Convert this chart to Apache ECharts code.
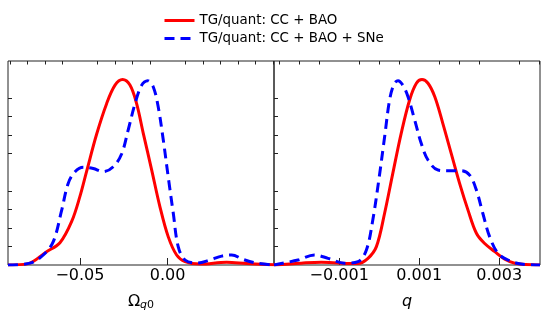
<!DOCTYPE html>
<html>
<head>
<meta charset="utf-8">
<script src="https://cdn.jsdelivr.net/npm/echarts@6/dist/echarts.min.js"></script>
<style>
  html, body { margin: 0; padding: 0; background: #fff; }
  #chart { width: 548px; height: 320px; }
</style>
</head>
<body>
<div id="chart"></div>
<script>
// posterior curves (normalised so the highest peak is ~1)
var omegaRedX = [-0.091, -0.080, -0.069, -0.0614, -0.0547, -0.050, -0.0462, -0.0405, -0.0348, -0.030, -0.0257, -0.0215, -0.0177, -0.0139, -0.0091, -0.0044, 0.0003, 0.0051, 0.0099, 0.0184, 0.0336, 0.045, 0.0564, 0.0606];
var omegaRedY = [0, 0.006, 0.072, 0.12, 0.235, 0.37, 0.505, 0.705, 0.87, 0.97, 1.0, 0.97, 0.87, 0.71, 0.512, 0.314, 0.153, 0.054, 0.018, 0.005, 0.015, 0.008, 0.003, 0.002];

var omegaBlueX = [-0.091, -0.0785, -0.0709, -0.0652, -0.0604, -0.0567, -0.0528, -0.0481, -0.0424, -0.0367, -0.031, -0.0262, -0.0225, -0.0186, -0.0148, -0.0114, -0.0082, -0.0054, -0.0025, 0.0003, 0.0032, 0.006, 0.0099, 0.0165, 0.0241, 0.0308, 0.0365, 0.0431, 0.0507, 0.0606];
var omegaBlueY = [0, 0.01, 0.054, 0.126, 0.296, 0.44, 0.503, 0.527, 0.52, 0.503, 0.53, 0.60, 0.728, 0.87, 0.97, 0.994, 0.96, 0.853, 0.674, 0.476, 0.279, 0.099, 0.027, 0.01, 0.027, 0.048, 0.054, 0.03, 0.01, 0];

var qRedX = [-0.00263, -0.00195, -0.00145, -0.00095, -0.00053, -0.00028, -0.00007, 0.000135, 0.00034, 0.00055, 0.00076, 0.00093, 0.00107, 0.00122, 0.00139, 0.00159, 0.0018, 0.00201, 0.00222, 0.00243, 0.00263, 0.00289, 0.00314, 0.00339, 0.00402];
var qRedY = [0, 0.01, 0.015, 0.01, 0.008, 0.036, 0.099, 0.279, 0.494, 0.71, 0.89, 0.98, 1.0, 0.98, 0.907, 0.764, 0.602, 0.44, 0.296, 0.171, 0.117, 0.072, 0.031, 0.01, 0];

var qBlueX = [-0.00263, -0.00203, -0.00162, -0.00128, -0.00087, -0.00053, -0.00032, -0.00016, -0.00001, 0.000135, 0.00026, 0.00037, 0.00047, 0.00059, 0.00072, 0.00089, 0.00105, 0.00122, 0.00147, 0.00176, 0.00205, 0.00226, 0.00243, 0.00259, 0.00276, 0.00297, 0.00322, 0.00355, 0.00402];
var qBlueY = [0, 0.027, 0.054, 0.036, 0.01, 0.018, 0.081, 0.243, 0.458, 0.69, 0.89, 0.976, 0.994, 0.97, 0.907, 0.78, 0.656, 0.566, 0.512, 0.508, 0.508, 0.485, 0.404, 0.279, 0.153, 0.063, 0.027, 0.005, 0];

// axis ranges and ticks
var omegaRange = [-0.091, 0.0606];
var omegaMajor = [-0.05, 0.0];
var omegaLabels = ['\u22120.05', '0.00'];
var omegaMinor = [-0.09, -0.08, -0.07, -0.06, -0.04, -0.03, -0.02, -0.01, 0.01, 0.02, 0.03, 0.04, 0.05, 0.06];

var qRange = [-0.00263, 0.00402];
var qMajor = [-0.001, 0.001, 0.003];
var qLabels = ['\u22120.001', '0.001', '0.003'];
var qMinor = [-0.0025, -0.002, -0.0015, -0.0005, 0.0, 0.0005, 0.0015, 0.002, 0.0025, 0.0035, 0.004];

var yMax = 1.1;
var yTicks = [0.1, 0.2, 0.3, 0.4, 0.6, 0.7, 0.8, 0.9];

var nameA = 'TG/quant: CC + BAO';
var nameB = 'TG/quant: CC + BAO + SNe';

var FONT = 'DejaVu Sans';

function pairs(xs, ys) {
    var out = [];
    for (var i = 0; i < xs.length; i++) out.push([xs[i], ys[i]]);
    return out;
}

function labelFor(ticks, labels) {
    return function (v) {
        for (var i = 0; i < ticks.length; i++) {
            if (Math.abs(ticks[i] - v) < 1e-9) return labels[i];
        }
        return '';
    };
}

function majorAxis(grid, range, ticks, labels, name) {
    return {
        type: 'value', gridIndex: grid, min: range[0], max: range[1],
        splitLine: { show: false },
        axisLine: { show: false },
        axisTick: { show: true, inside: true, length: 7, customValues: ticks, lineStyle: { color: '#222', width: 1 } },
        axisLabel: { show: true, customValues: ticks, formatter: labelFor(ticks, labels), margin: 3, fontSize: 16, fontFamily: FONT, color: '#000' },
        name: name, nameLocation: 'middle', nameGap: 27,
        nameTextStyle: {
            fontFamily: FONT, color: '#000',
            rich: {
                o: { fontSize: 16, fontFamily: FONT, color: '#000', lineHeight: 20 },
                s: { fontSize: 11, fontFamily: FONT, color: '#000', fontStyle: 'italic', lineHeight: 20, padding: [6, 0, 0, 0] },
                z: { fontSize: 11, fontFamily: FONT, color: '#000', lineHeight: 20, padding: [6, 0, 0, 0] },
                q: { fontSize: 16, fontFamily: FONT, color: '#000', fontStyle: 'italic', lineHeight: 20 }
            }
        }
    };
}

function minorAxis(grid, range, ticks) {
    return {
        type: 'value', gridIndex: grid, min: range[0], max: range[1],
        splitLine: { show: false },
        axisLine: { show: false },
        axisTick: { show: true, inside: true, length: 3.5, customValues: ticks, lineStyle: { color: '#222', width: 1 } },
        axisLabel: { show: false }
    };
}

function yAxisFor(grid) {
    return {
        type: 'value', gridIndex: grid, min: 0, max: yMax, position: 'left',
        splitLine: { show: false },
        axisLine: { show: false, onZero: false },
        axisTick: { show: true, inside: true, length: 4, customValues: yTicks, lineStyle: { color: '#222', width: 1 } },
        axisLabel: { show: false }
    };
}

function curve(name, color, dashed, xi, yi, xs, ys) {
    return {
        type: 'line', name: name, xAxisIndex: xi, yAxisIndex: yi,
        data: pairs(xs, ys), symbol: 'none', smooth: 0.35,
        lineStyle: { color: color, width: 3, type: dashed ? [10, 6] : 'solid' },
        itemStyle: { color: color },
        silent: true, animation: false
    };
}

var chart = echarts.init(document.getElementById('chart'));
chart.setOption({
    animation: false,
    backgroundColor: '#fff',
    legend: {
        data: [nameA, nameB],
        orient: 'vertical', left: 158, top: 9,
        itemWidth: 30, itemHeight: 14, itemGap: 5,
        itemStyle: { opacity: 0 },
        lineStyle: { width: 3 },
        textStyle: { fontFamily: FONT, fontSize: 13.4, color: '#000' }
    },
    grid: [
        { left: 8, top: 61, width: 266, height: 204, show: true, borderColor: '#222', borderWidth: 1, containLabel: false },
        { left: 274, top: 61, width: 266, height: 204, show: true, borderColor: '#222', borderWidth: 1, containLabel: false }
    ],
    xAxis: [
        majorAxis(0, omegaRange, omegaMajor, omegaLabels, '{o|\u03A9}{s|q}{z|0}'),
        minorAxis(0, omegaRange, omegaMinor),
        majorAxis(1, qRange, qMajor, qLabels, '{q|q}'),
        minorAxis(1, qRange, qMinor)
    ],
    yAxis: [yAxisFor(0), yAxisFor(1)],
    series: [
        curve(nameA, '#ff0000', false, 0, 0, omegaRedX, omegaRedY),
        curve(nameB, '#0000ff', true, 0, 0, omegaBlueX, omegaBlueY),
        curve(nameA, '#ff0000', false, 2, 1, qRedX, qRedY),
        curve(nameB, '#0000ff', true, 2, 1, qBlueX, qBlueY)
    ]
});
</script>
</body>
</html>
